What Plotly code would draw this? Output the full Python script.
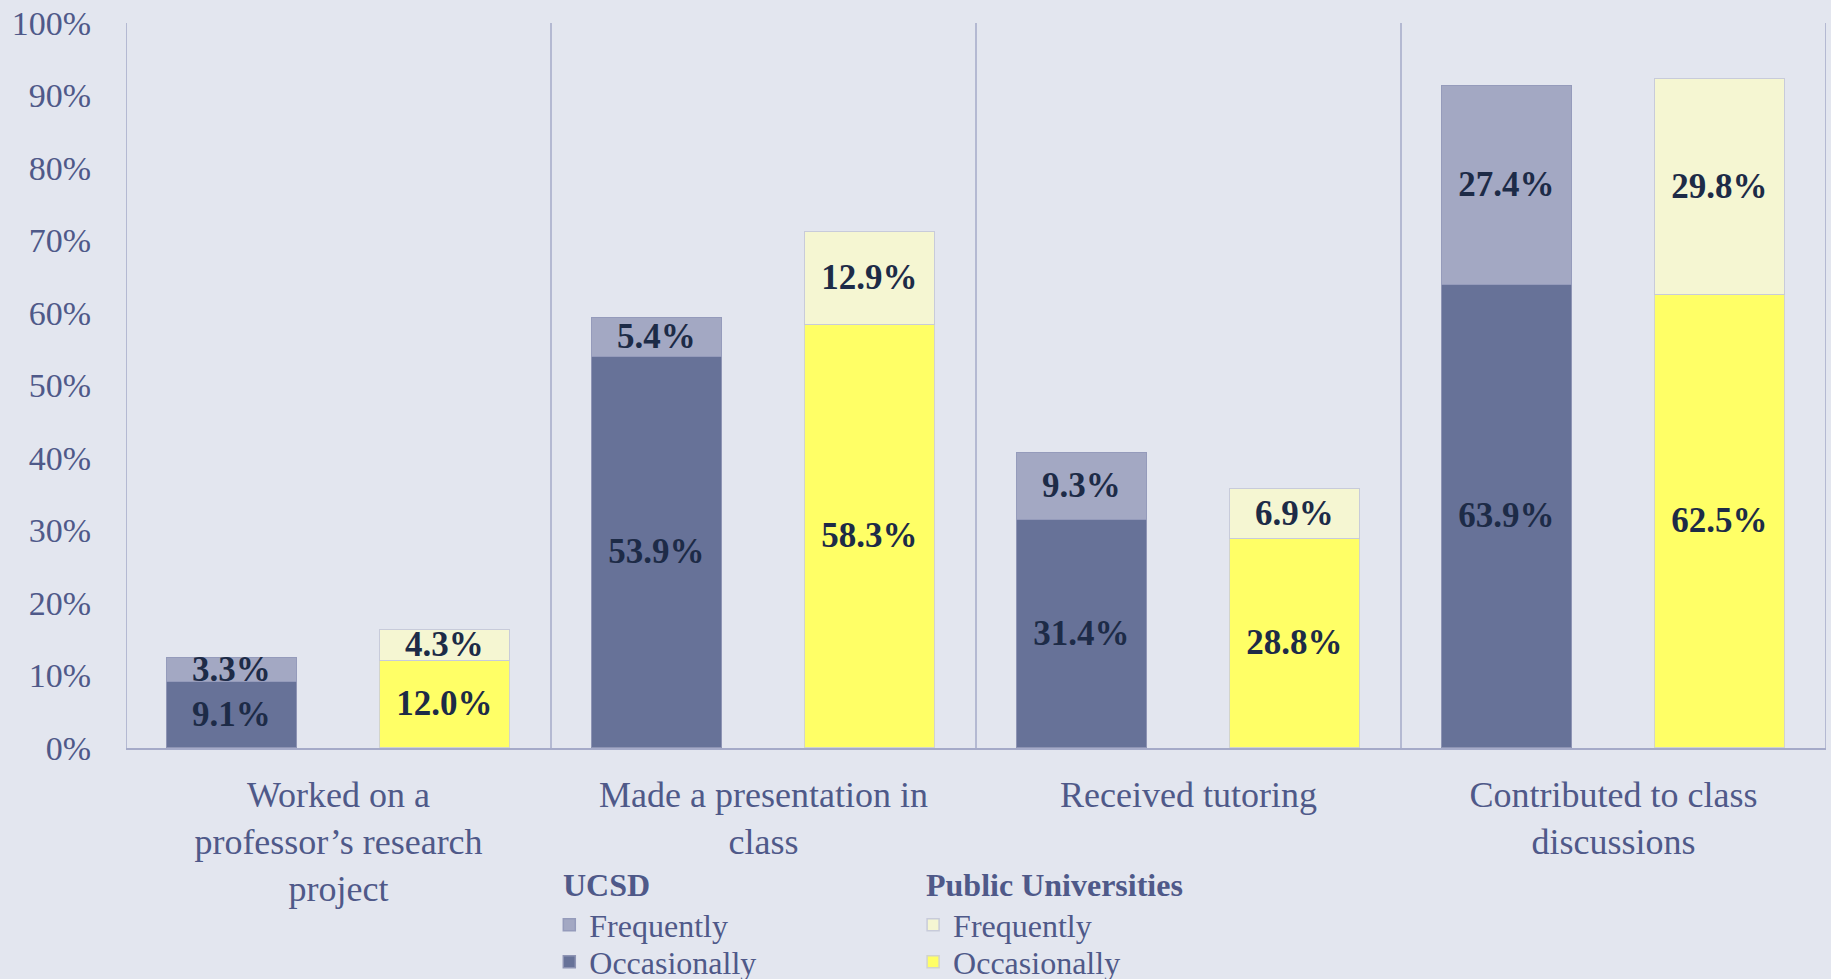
import plotly.graph_objects as go

categories = ["Worked on a<br>professor’s research<br>project",
              "Made a presentation in<br>class",
              "Received tutoring",
              "Contributed to class<br>discussions"]
ucsd_occasionally = [9.1, 53.9, 31.4, 63.9]
ucsd_frequently = [3.3, 5.4, 9.3, 27.4]
public_occasionally = [12.0, 58.3, 28.8, 62.5]
public_frequently = [4.3, 12.9, 6.9, 29.8]
y_ticks = list(range(0, 101, 10))
group_titles = ["UCSD", "Public Universities"]

BG = "#E3E6EF"
TICK = "#4F5989"
LABEL = "#1D2B47"
SERIF = "Liberation Serif, Times New Roman, serif"

idx = list(range(len(categories)))
x_ucsd = [i - 0.25 for i in idx]
x_pub = [i + 0.25 for i in idx]
BW = 0.305

def bar(x, vals, name, color, line, legend):
    return go.Bar(
        x=x, y=[v / 100 for v in vals], width=BW, name=name,
        marker=dict(color=color, line=dict(color=line, width=1.5)),
        text=[f"{v:.1f}%" for v in vals], textposition="inside",
        insidetextanchor="middle", constraintext="none",
        textfont=dict(family=SERIF, size=35, color=LABEL, weight="bold"),
        legend=legend, hoverinfo="skip",
    )

fig = go.Figure()
fig.add_trace(bar(x_ucsd, ucsd_occasionally, "Occasionally", "#677298", "#8E94B4", "legend2"))
fig.add_trace(bar(x_ucsd, ucsd_frequently, "Frequently", "#A3A8C3", "#959BBB", "legend"))
fig.add_trace(bar(x_pub, public_occasionally, "Occasionally", "#FFFF66", "#D2D4CC", "legend4"))
fig.add_trace(bar(x_pub, public_frequently, "Frequently", "#F5F6D2", "#C8CBDA", "legend3"))

for k in range(len(categories) + 1):
    fig.add_shape(type="line", xref="x", yref="paper", x0=k - 0.5, x1=k - 0.5,
                  y0=0, y1=1, line=dict(color="#A5AAC8", width=1.5), layer="below")

def leg(x, y):
    return dict(
        orientation="v", bgcolor="rgba(0,0,0,0)",
        font=dict(family=SERIF, size=32, color=TICK),
        x=x, y=y, xanchor="left", yanchor="middle",
        itemclick=False, itemdoubleclick=False,
    )

X_U, X_P = 0.249, 0.463
Y_F, Y_O = -0.244, -0.295

for tx, title in zip([0.2559, 0.4694], group_titles):
    fig.add_annotation(text=f"<b>{title}</b>", xref="paper", yref="paper",
                       x=tx, y=-0.189, xanchor="left", yanchor="middle",
                       showarrow=False,
                       font=dict(family=SERIF, size=32, color=TICK))

fig.update_layout(
    width=1831, height=979,
    paper_bgcolor=BG, plot_bgcolor=BG,
    barmode="stack", bargap=0,
    margin=dict(l=126, r=5, t=23, b=231, autoexpand=False),
    showlegend=True,
    legend=leg(X_U, Y_F), legend2=leg(X_U, Y_O),
    legend3=leg(X_P, Y_F), legend4=leg(X_P, Y_O),
    xaxis=dict(
        range=[-0.5, len(categories) - 0.5],
        tickmode="array", tickvals=idx, ticktext=categories,
        tickfont=dict(family=SERIF, size=36, color=TICK),
        showgrid=False, zeroline=False,
        showline=True, linecolor="#A5AAC8", linewidth=2,
        ticks="", ticklabelstandoff=14, fixedrange=True,
    ),
    yaxis=dict(
        range=[0, 1], tickmode="array", tickvals=[t / 100 for t in y_ticks],
        ticktext=[f"{t}%" for t in y_ticks],
        tickfont=dict(family=SERIF, size=34, color=TICK),
        showgrid=False, zeroline=False, showline=False,
        ticks="", ticklabelstandoff=34, fixedrange=True,
    ),
)

fig.write_html("out.html", config={"displayModeBar": False},
               post_script="document.body.style.margin='0';document.body.style.overflow='hidden';")
